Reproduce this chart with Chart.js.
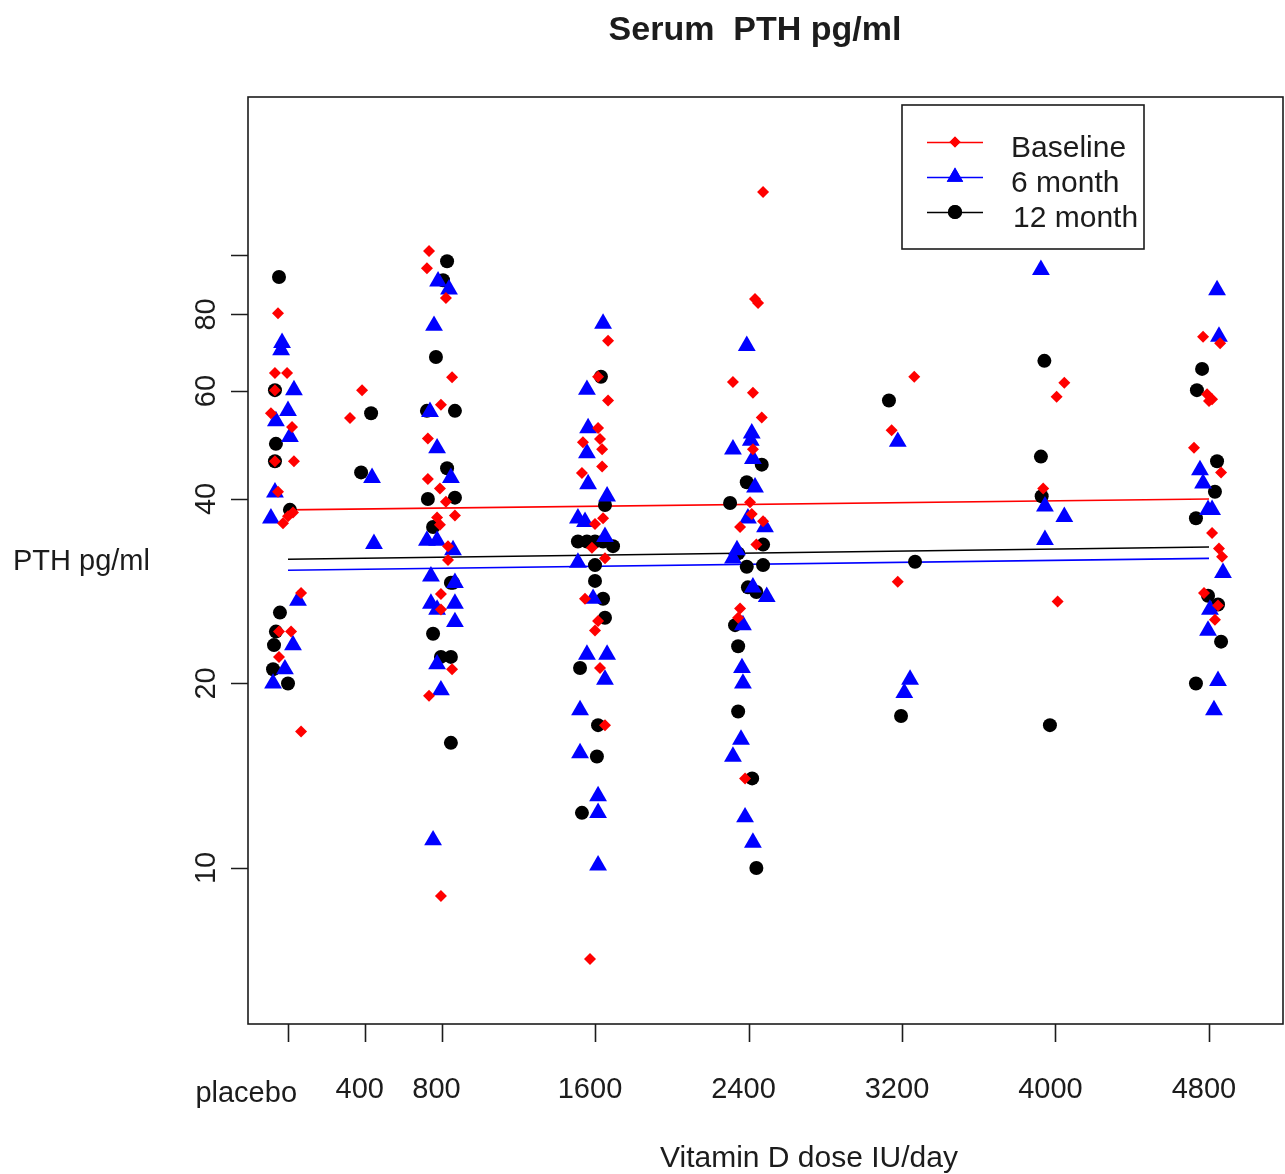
<!DOCTYPE html>
<html>
<head>
<meta charset="utf-8">
<title>Serum PTH pg/ml</title>
<script src="https://cdn.jsdelivr.net/npm/chart.js@4.4.1/dist/chart.umd.min.js"></script>
<style>
  html, body { margin: 0; padding: 0; background: #fff; }
  canvas { display: block; }
</style>
</head>
<body>
<canvas id="pth" width="1285" height="1174"></canvas>
<script>
// Dose groups on the x axis (IU/day), placebo sits at 0
const doseTicks = [0, 400, 800, 1600, 2400, 3200, 4000, 4800]
const doseLabels = ['placebo', '400', '800', '1600', '2400', '3200', '4000', '4800']

// Log axis ticks (100 has a tick but no label)
const pthTicks = [10, 20, 40, 60, 80, 100]
const pthLabels = ['10', '20', '40', '60', '80', '']

// [jittered dose, PTH pg/ml]
const baseline = [
    [-52, 80.4], [-68, 64.2], [-5, 64.2], [-68, 60.2], [-89, 55.2], [21, 52.4], [-68, 46.1], [31, 46.1],
    [-52, 41.1], [-26, 36.5], [0, 37.5], [26, 38.0], [68, 28.1], [-47, 24.3], [16, 24.3], [-47, 22.1], [68, 16.7],
    [386, 60.2], [323, 54.2],
    [735, 101.5], [724, 95.2], [823, 85.1], [855, 63.2], [797, 57.0], [729, 50.2], [729, 43.1], [792, 41.6],
    [823, 39.6], [870, 37.6], [777, 37.3], [792, 36.3], [834, 33.5], [834, 31.8], [797, 28.0], [797, 26.4],
    [855, 21.1], [735, 19.1], [797, 9.0],
    [1668, 72.5], [1616, 63.3], [1668, 57.9], [1616, 52.2], [1626, 50.1], [1637, 48.2], [1537, 49.5], [1532, 44.1],
    [1637, 45.2], [1600, 36.4], [1642, 37.2], [1584, 33.3], [1652, 32.0], [1548, 27.5], [1616, 25.3], [1600, 24.4],
    [1626, 21.2], [1652, 17.1], [1574, 7.1],
    [2476, 126.7], [2434, 84.8], [2450, 83.5], [2319, 62.1], [2423, 59.6], [2469, 54.3], [2423, 48.2], [2408, 39.5],
    [2417, 37.8], [2476, 36.8], [2356, 36.0], [2441, 33.7], [2356, 26.5], [2346, 25.6], [2382, 14.0],
    [3264, 63.3], [3146, 51.8], [3178, 29.3],
    [4046, 61.9], [4006, 58.7], [3936, 41.6], [4011, 27.2],
    [4769, 73.6], [4858, 71.8], [4790, 59.3], [4816, 58.2], [4800, 57.8], [4722, 48.5], [4863, 44.2], [4816, 35.2],
    [4852, 33.2], [4868, 32.2], [4774, 28.1], [4847, 26.8], [4831, 25.4]
]

const month6 = [
    [-31, 71.9], [-36, 70.0], [31, 60.2], [0, 55.7], [-63, 53.6], [10, 50.5], [-68, 41.0], [-89, 37.2],
    [52, 27.3], [26, 23.1], [-16, 21.1], [-78, 20.0],
    [438, 43.3], [448, 33.8],
    [782, 90.6], [839, 87.9], [761, 76.7], [740, 55.5], [777, 48.4], [849, 43.3], [724, 34.2], [777, 34.2],
    [860, 33.0], [745, 29.9], [870, 29.2], [745, 27.0], [870, 27.0], [777, 26.4], [870, 25.2], [777, 21.5],
    [797, 19.5], [756, 11.1],
    [1642, 77.3], [1558, 60.3], [1564, 52.2], [1558, 47.5], [1564, 42.3], [1663, 40.4], [1511, 37.2], [1548, 36.7],
    [1652, 34.7], [1511, 31.5], [1590, 27.5], [1558, 22.3], [1663, 22.3], [1652, 20.3], [1522, 18.1], [1522, 15.4],
    [1616, 13.1], [1616, 12.3], [1616, 10.1],
    [2391, 71.1], [2417, 51.2], [2412, 49.8], [2319, 48.2], [2423, 46.5], [2434, 41.8], [2397, 37.2], [2486, 36.0],
    [2340, 33.0], [2319, 32.0], [2423, 28.7], [2495, 27.7], [2371, 24.9], [2366, 21.2], [2371, 20.0], [2361, 16.2],
    [2319, 15.2], [2382, 12.1], [2423, 11.0],
    [3178, 49.6], [3242, 20.3], [3212, 19.3],
    [3924, 94.6], [3945, 38.9], [4046, 37.4], [3945, 34.3],
    [4842, 87.7], [4852, 73.6], [4753, 44.6], [4769, 42.4], [4795, 38.4], [4816, 38.4], [4873, 30.3], [4805, 26.4],
    [4795, 24.4], [4847, 20.2], [4826, 18.1]
]

const month12 = [
    [-47, 92.1], [-68, 60.2], [-63, 49.2], [-68, 46.1], [10, 38.4], [-42, 26.1], [-63, 24.3], [-73, 23.1],
    [-78, 21.1], [0, 20.0],
    [433, 55.2], [381, 44.2],
    [829, 97.7], [808, 91.0], [771, 68.2], [724, 55.7], [870, 55.7], [829, 44.9], [729, 40.0], [870, 40.2],
    [756, 36.0], [849, 29.2], [860, 29.2], [756, 24.1], [797, 22.1], [849, 22.1], [849, 16.0],
    [1631, 63.3], [1652, 39.1], [1511, 34.1], [1558, 34.1], [1600, 34.1], [1642, 34.1], [1694, 33.5], [1600, 31.2],
    [1600, 29.4], [1642, 27.5], [1652, 25.6], [1522, 21.2], [1616, 17.1], [1610, 15.2], [1532, 12.3],
    [2469, 45.5], [2391, 42.6], [2304, 39.4], [2476, 33.7], [2346, 32.6], [2476, 31.2], [2391, 31.0], [2397, 28.7],
    [2441, 28.2], [2330, 24.9], [2346, 23.0], [2346, 18.0], [2419, 14.0], [2441, 10.0],
    [3132, 57.9], [3268, 31.6], [3195, 17.7],
    [3942, 67.2], [3924, 46.9], [3928, 40.4], [3971, 17.1],
    [4764, 65.2], [4737, 60.2], [4842, 46.1], [4831, 41.1], [4732, 37.2], [4795, 27.8], [4847, 26.9], [4863, 23.4],
    [4732, 20.0]
]

// Fitted trend per visit, from placebo to 4800
const fitDose = [0, 4800]
const baselineFit = [38.4, 40.0]
const month6Fit = [30.6, 32.0]
const month12Fit = [31.9, 33.4]

const series = ['Baseline', '6 month', '12 month']
const seriesColor = ['#ff0000', '#0000ff', '#000000']

const FONT = '"Liberation Sans", Arial, Helvetica, sans-serif'
const INK = '#1c1c1c'

const points = (label, rows, color, style, radius) => ({
    label: label,
    data: rows.map(r => ({x: r[0], y: r[1]})),
    pointStyle: style,
    pointRadius: radius,
    pointBackgroundColor: color,
    pointBorderWidth: 0,
    showLine: false
})

const trend = (label, fit, color) => ({
    label: label,
    data: fitDose.map((d, i) => ({x: d, y: fit[i]})),
    showLine: true,
    borderColor: color,
    borderWidth: 1.6,
    pointRadius: 0
})

// R style frame, axes, titles and legend
const rFrame = {
    id: 'rFrame',
    afterDraw(chart) {
        const ctx = chart.ctx
        const {left, right, top, bottom} = chart.chartArea
        const xs = chart.scales.x
        const ys = chart.scales.y

        ctx.save()
        ctx.strokeStyle = INK
        ctx.lineWidth = 1.6
        ctx.strokeRect(left, top, right - left, bottom - top)

        // tick marks
        ctx.beginPath()
        doseTicks.forEach(d => {
            const px = Math.round(xs.getPixelForValue(d)) + 0.5
            ctx.moveTo(px, bottom)
            ctx.lineTo(px, bottom + 18)
        })
        pthTicks.forEach(v => {
            const py = Math.round(ys.getPixelForValue(v)) + 0.5
            ctx.moveTo(left - 17, py)
            ctx.lineTo(left, py)
        })
        ctx.stroke()

        ctx.fillStyle = INK
        ctx.font = '29px ' + FONT
        ctx.textBaseline = 'alphabetic'

        // x tick labels
        doseLabels.forEach((lab, i) => {
            const px = xs.getPixelForValue(doseTicks[i])
            if (i === 0) {
                ctx.textAlign = 'right'
                ctx.fillText(lab, px + 9, 1102)
            } else {
                ctx.textAlign = 'center'
                ctx.fillText(lab, px - 5, 1098)
            }
        })

        // y tick labels, rotated like R
        pthLabels.forEach((lab, i) => {
            if (!lab) return
            const py = ys.getPixelForValue(pthTicks[i])
            ctx.save()
            ctx.translate(215, py)
            ctx.rotate(-Math.PI / 2)
            ctx.textAlign = 'center'
            ctx.fillText(lab, 0, 0)
            ctx.restore()
        })

        // axis titles
        ctx.textAlign = 'left'
        ctx.fillText('PTH pg/ml', 13, 570)
        ctx.font = '30px ' + FONT
        ctx.textAlign = 'center'
        ctx.fillText('Vitamin D dose IU/day', 809, 1167)

        // main title
        ctx.font = 'bold 34px ' + FONT
        ctx.fillText('Serum  PTH pg/ml', 755, 40)

        // legend
        ctx.lineWidth = 1.6
        ctx.strokeRect(902, 105, 242, 144)
        const rowY = [142, 177, 212]
        const marks = [['rectRot', 5.5], ['triangle', 9.5], ['circle', 7]]
        ctx.font = '30px ' + FONT
        ctx.textAlign = 'left'
        series.forEach((name, i) => {
            ctx.strokeStyle = seriesColor[i]
            ctx.beginPath()
            ctx.moveTo(927, rowY[i] + 0.5)
            ctx.lineTo(983, rowY[i] + 0.5)
            ctx.stroke()
            ctx.fillStyle = seriesColor[i]
            Chart.helpers.drawPoint(ctx, {pointStyle: marks[i][0], radius: marks[i][1], rotation: 0, borderWidth: 0}, 955, rowY[i])
            ctx.fill()
            ctx.fillStyle = INK
            ctx.fillText(name, i === 2 ? 1013 : 1011, rowY[i] + 15)
        })
        ctx.restore()
    }
}

new Chart(document.getElementById('pth'), {
    type: 'scatter',
    data: {
        datasets: [
            points(series[0], baseline, seriesColor[0], 'rectRot', 6),
            points(series[1], month6, seriesColor[1], 'triangle', 10.3),
            points(series[2], month12, seriesColor[2], 'circle', 7),
            trend('Baseline fit', baselineFit, seriesColor[0]),
            trend('6 month fit', month6Fit, seriesColor[1]),
            trend('12 month fit', month12Fit, seriesColor[2])
        ]
    },
    options: {
        responsive: false,
        animation: false,
        layout: {autoPadding: false, padding: {left: 248, top: 97, right: 2, bottom: 150}},
        scales: {
            x: {type: 'linear', display: false, min: -208.5, max: 5185.7},
            y: {type: 'logarithmic', display: false, min: 5.564, max: 181.1}
        },
        plugins: {
            legend: {display: false},
            tooltip: {enabled: false}
        }
    },
    plugins: [rFrame]
})
</script>
</body>
</html>
